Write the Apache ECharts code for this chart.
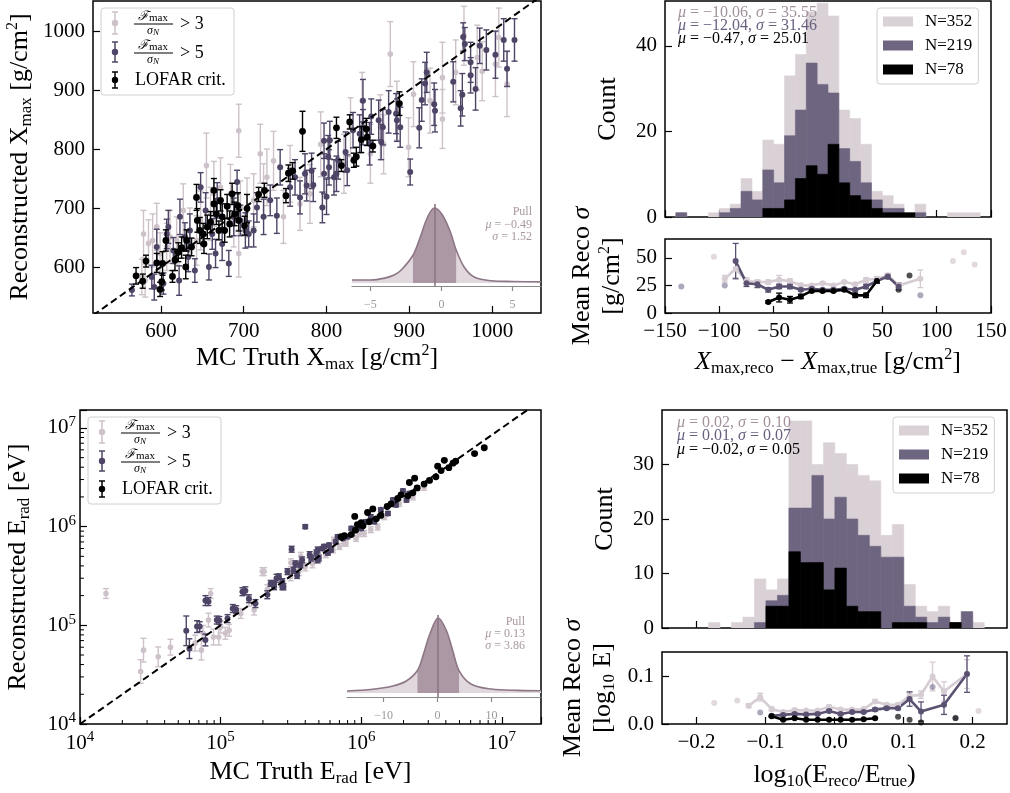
<!DOCTYPE html>
<html>
<head>
<meta charset="UTF-8">
<title>Xmax and Erad reconstruction</title>
<script src="https://cdn.jsdelivr.net/npm/echarts@6/dist/echarts.min.js"></script>
</head>
<body style="margin:0">
<div id="chart" style="width:1010px;height:793px;"></div>
<script>
// ---- scatter: [truth, reco, err] ----
var xmaxLight = [[577,583,30],[581,577,28],[579,656,40],[585,640,40],[590,645,45],[595,668,40],[599,623,35],[607,634,40],[611,651,45],[619,645,40],[627,696,45],[635,662,38],[643,645,42],[648,679,50],[655,772,55],[660,690,45],[664,724,55],[672,735,50],[684,724,50],[688,679,45],[694,831,45],[694,623,40],[696,701,45],[704,701,50],[712,713,45],[720,792,50],[724,730,45],[728,752,48],[736,780,50],[748,685,45],[756,758,48],[768,707,45],[780,724,50],[793,808,55],[821,775,50],[829,837,50],[843,882,48],[853,792,50],[865,837,55],[869,808,50],[877,961,55],[885,865,50],[899,803,50],[905,893,55],[925,882,55],[940,851,50],[940,921,60],[956,930,55],[966,992,50],[982,955,55],[988,932,50],[1004,944,55],[1008,989,50],[1018,910,55]];
var xmaxMid = [[565,561,10],[589,583,20],[592,566,22],[595,634,30],[603,572,18],[607,656,25],[609,668,28],[615,628,22],[622,577,25],[623,685,30],[629,651,24],[633,617,25],[635,662,28],[641,594,20],[648,735,25],[654,696,30],[658,600,22],[662,656,26],[666,623,24],[668,713,30],[674,639,28],[682,606,22],[688,685,32],[692,744,20],[696,679,26],[702,662,30],[706,656,22],[712,662,28],[716,701,25],[724,685,30],[732,713,26],[740,687,30],[744,769,30],[756,735,32],[762,752,30],[768,718,28],[774,758,34],[776,738,26],[782,763,30],[784,739,28],[795,701,26],[797,814,30],[797,758,34],[800,719,30],[802,787,36],[803,769,30],[804,815,32],[809,752,30],[812,758,30],[814,781,32],[823,795,34],[825,764,26],[832,832,30],[840,826,32],[844,882,36],[844,837,30],[852,809,36],[854,855,30],[863,849,34],[866,812,30],[868,837,30],[875,863,36],[884,860,34],[885,849,36],[889,837,34],[901,761,22],[912,836,34],[915,883,36],[919,911,36],[921,930,34],[930,876,36],[931,865,36],[953,914,34],[962,869,30],[964,892,36],[965,990,24],[967,978,28],[974,947,34],[974,925,30],[980,902,36],[985,975,30],[993,968,34],[1004,960,40],[1014,985,36],[1018,936,30],[1027,985,36]];
var xmaxLofar = [[570,585,14],[578,576,12],[582,610,10],[595,607,16],[599,562,12],[601,575,14],[602,606,20],[606,645,18],[614,584,10],[617,612,18],[621,625,16],[625,633,18],[630,600,20],[631,645,18],[637,634,15],[643,718,22],[644,679,20],[647,662,22],[651,656,18],[652,639,16],[656,668,20],[660,676,18],[664,730,20],[664,707,20],[667,690,18],[670,662,16],[672,713,18],[674,685,22],[677,662,20],[680,703,20],[683,673,22],[686,724,18],[689,690,20],[693,704,22],[694,679,18],[701,670,16],[704,699,24],[718,723,12],[725,730,12],[751,721,12],[754,759,14],[759,763,14],[771,830,34],[812,836,18],[818,772,10],[828,846,12],[833,781,12],[836,787,16],[842,816,22],[848,834,18],[849,820,14],[856,805,10],[888,877,20]];

// [truth, reco, err in dex]
var eradLight = [[1.53e4,2.1e5,0.05],[2.7e4,3.4e4,0.12],[2.83e4,5.6e4,0.12],[3.6e4,4.8e4,0.1],[4.4e4,6.0e4,0.08],[6.6e4,6.6e4,0.08],[7.3e4,5.6e4,0.1],[7.5e4,8.3e4,0.08],[8.2e4,1.13e5,0.07],[8.5e4,2.1e5,0.05],[8.9e4,7.6e4,0.08],[9.7e4,7.6e4,0.08],[1.0e5,9.6e4,0.06],[1.08e5,8.3e4,0.06],[1.15e5,8.9e4,0.06],[1.39e5,1.32e5,0.05],[1.59e5,1.76e5,0.05],[1.73e5,1.43e5,0.05],[1.98e5,3.5e5,0.04],[2.04e5,3.5e5,0.04],[2.15e5,2.3e5,0.05],[2.7e5,2.65e5,0.04],[3.15e5,3.1e5,0.04],[3.16e5,4.3e5,0.04],[3.6e5,3.5e5,0.04],[3.72e5,5.0e5,0.04],[4.0e5,3.9e5,0.04],[4.5e5,4.2e5,0.04],[4.6e5,4.6e5,0.03],[5.6e5,5.2e5,0.03],[5.8e5,5.8e5,0.03],[6.3e5,5.8e5,0.03],[6.4e5,7.3e5,0.03],[7.0e5,6.3e5,0.03],[7.6e5,6.8e5,0.03],[7.8e5,6.8e5,0.03],[9.2e5,7.6e5,0.03],[9.7e5,8.5e5,0.03],[1.05e6,8.5e5,0.03],[1.17e6,9.3e5,0.03],[1.31e6,9.9e5,0.03],[1.46e6,1.26e6,0.03],[1.87e6,1.72e6,0.03],[2.33e6,2.0e6,0.03],[2.8e6,2.5e6,0.03]];
var eradMid = [[5.7e4,8.8e4,0.15],[6.0e4,5.8e4,0.1],[6.8e4,9.7e4,0.06],[7.1e4,9.7e4,0.05],[7.8e4,1.78e5,0.05],[7.8e4,7.1e4,0.06],[8.2e4,1.74e5,0.04],[9.4e4,1.13e5,0.04],[9.8e4,1.12e5,0.04],[1.12e5,1.17e5,0.04],[1.22e5,1.48e5,0.04],[1.29e5,1.44e5,0.04],[1.43e5,2.19e5,0.04],[1.5e5,2.24e5,0.04],[1.59e5,1.86e5,0.04],[1.77e5,1.66e5,0.04],[2.15e5,2.04e5,0.04],[2.27e5,2.66e5,0.03],[2.4e5,2.46e5,0.03],[2.4e5,2.65e5,0.03],[2.5e5,3.0e5,0.04],[2.6e5,3.1e5,0.03],[2.75e5,2.46e5,0.03],[2.75e5,2.77e5,0.03],[2.8e5,2.46e5,0.03],[2.99e5,3.5e5,0.03],[3.2e5,5.9e5,0.03],[3.3e5,3.6e5,0.03],[3.4e5,4.2e5,0.03],[3.5e5,3.2e5,0.03],[3.7e5,4.1e5,0.03],[3.8e5,4.6e5,0.03],[4.0e5,1.0e6,0.02],[4.3e5,5.2e5,0.03],[4.4e5,4.8e5,0.03],[4.8e5,5.4e5,0.03],[4.9e5,5.8e5,0.03],[4.9e5,4.6e5,0.03],[5.0e5,4.8e5,0.03],[5.3e5,6.0e5,0.02],[5.45e5,6.3e5,0.02],[5.8e5,5.4e5,0.02],[5.9e5,6.5e5,0.02],[6.1e5,5.8e5,0.02],[6.6e5,7.0e5,0.02],[6.8e5,7.9e5,0.02],[7.4e5,7.6e5,0.02],[8.0e5,7.9e5,0.02],[8.5e5,9.6e5,0.02],[8.9e5,9.2e5,0.02],[1.0e6,9.6e5,0.02],[1.08e6,1.12e6,0.02],[1.17e6,1.26e6,0.02],[1.24e6,1.12e6,0.02],[1.38e6,1.48e6,0.02],[1.55e6,1.36e6,0.02],[1.68e6,1.86e6,0.02],[1.77e6,1.66e6,0.02],[1.98e6,2.3e6,0.02],[2.1e6,1.86e6,0.02],[2.2e6,2.17e6,0.02],[2.5e6,2.45e6,0.02]];
var eradLofar = [[7.2e5,7.9e5,0.01],[7.6e5,8.1e5,0.01],[8.5e5,8.3e5,0.01],[9.0e5,1.27e6,0.01],[9.1e5,9.2e5,0.01],[9.4e5,1.05e6,0.01],[1.0e6,1.1e6,0.01],[1.03e6,1.02e6,0.01],[1.11e6,1.39e6,0.01],[1.14e6,1.12e6,0.01],[1.21e6,1.51e6,0.01],[1.28e6,1.2e6,0.01],[1.38e6,1.3e6,0.01],[1.53e6,1.6e6,0.01],[1.63e6,1.7e6,0.01],[1.82e6,1.93e6,0.01],[1.92e6,2.1e6,0.01],[2.15e6,2.05e6,0.01],[2.2e6,2.8e6,0.01],[2.33e6,2.2e6,0.01],[2.4e6,3.1e6,0.01],[2.5e6,2.47e6,0.01],[2.8e6,2.7e6,0.01],[3.06e6,2.94e6,0.01],[3.4e6,3.2e6,0.01],[3.5e6,4.1e6,0.01],[3.7e6,3.7e6,0.01],[3.9e6,4.7e6,0.01],[4.2e6,3.96e6,0.01],[4.5e6,4.4e6,0.01],[4.7e6,4.6e6,0.01],[6.4e6,5.5e6,0.01],[7.5e6,6.3e6,0.01]];

var diagXmax = [518, 1059];
var diagErad = [1e4, 1.9e7];

// ---- histograms ----
var histXmaxEdges = [-150,-140,-130,-120,-110,-100,-90,-80,-70,-60,-50,-40,-30,-20,-10,0,10,20,30,40,50,60,70,80,90,100,110,120,130,140];
var histXmaxLight = [0,1,0,0,1,2,3,9,6,18,17,33,38,48,50,47,25,23,17,6,5,3,1,3,0,0,1,1,1];
var histXmaxMid   = [0,1,0,0,0,1,2,6,4,11,8,19,25,36,31,29,16,13,8,4,2,2,0,1,0,0,0,0,0];
var histXmaxLofar = [0,0,0,0,0,0,0,0,0,2,2,4,9,12,10,17,8,5,4,2,1,1,1,0,0,0,0,0,0];

var histEradEdges = [-0.1826,-0.1660,-0.1493,-0.1327,-0.1160,-0.0994,-0.0827,-0.0661,-0.0494,-0.0328,-0.0161,0.0005,0.0172,0.0338,0.0505,0.0671,0.0838,0.1004,0.1171,0.1337,0.1504,0.1670,0.1837,0.2003,0.2170];
var histEradLight = [1,0,1,2,9,7,9,38,38,30,34,32,30,28,27,17,19,8,4,3,4,1,3,1];
var histEradMid   = [0,0,0,0,1,5,6,22,22,28,20,24,20,17,15,13,13,4,2,1,2,1,3,0];
var histEradLofar = [0,0,0,0,0,4,4,14,12,12,7,11,4,3,3,0,1,1,1,0,0,1,0,0];

// ---- mean reco sigma per bin: [centre, mean, err] ----
var resXmaxLightLine = [[-95,31,3],[-85,40,8],[-75,29,3],[-65,28,2],[-55,28,2],[-45,30,4],[-35,29,2],[-25,25,2],[-15,25,1],[-5,27,1],[5,25,1],[15,28,1],[25,26,1],[35,30,2],[45,31,2],[55,34,2],[65,25,2],[85,31,8]];
var resXmaxLightSingle = [[-105,51],[115,47],[125,55],[135,44]];
var resXmaxMidLine = [[-85,47,16],[-75,27,3],[-65,26,3],[-55,21,2],[-45,24,2],[-35,24,2],[-25,21,1],[-15,22,1],[-5,21,1],[5,21,1],[15,22,1],[25,21,1],[35,24,2],[45,29,2],[55,33,2],[65,24,3]];
var resXmaxMidSingle = [[-135,24],[-95,25],[85,16]];
var resXmaxLofarLine = [[-55,10,1],[-45,14,4],[-35,12,3],[-25,15,2],[-15,20,1],[-5,20,1],[5,20,1],[15,21,1],[25,16,2],[35,16,2],[45,29,2]];
var resXmaxLofarSingle = [[55,33],[65,21],[75,34]];

var resEradLightLine = [[-0.1244,0.038,0.004],[-0.1077,0.056,0.008],[-0.0911,0.031,0.004],[-0.0744,0.025,0.003],[-0.0578,0.029,0.003],[-0.0411,0.028,0.002],[-0.0245,0.028,0.002],[-0.0078,0.036,0.003],[0.0089,0.030,0.002],[0.0255,0.030,0.002],[0.0422,0.031,0.002],[0.0588,0.047,0.004],[0.0755,0.040,0.003],[0.0921,0.040,0.003],[0.1088,0.058,0.006],[0.1254,0.061,0.008],[0.1421,0.099,0.03],[0.1587,0.068,0.02],[0.1920,0.104,0.03]];
var resEradLightSingle = [[-0.1743,0.044],[-0.1410,0.049],[0.2087,0.027]];
var resEradMidLine = [[-0.0911,0.017,0.002],[-0.0744,0.019,0.002],[-0.0578,0.021,0.002],[-0.0411,0.020,0.002],[-0.0245,0.021,0.002],[-0.0078,0.027,0.003],[0.0089,0.021,0.002],[0.0255,0.025,0.002],[0.0422,0.025,0.002],[0.0588,0.030,0.003],[0.0755,0.033,0.003],[0.0921,0.033,0.003],[0.1088,0.052,0.015],[0.1254,0.026,0.02],[0.1587,0.040,0.02],[0.1920,0.104,0.038]];
var resEradMidSingle = [[-0.1077,0.024],[0.1421,0.077],[0.1754,0.013]];
var resEradLofarLine = [[-0.0911,0.016,0.001],[-0.0744,0.009,0.001],[-0.0578,0.012,0.001],[-0.0411,0.009,0.001],[-0.0245,0.009,0.001],[-0.0078,0.009,0.001],[0.0089,0.009,0.001],[0.0255,0.009,0.001],[0.0422,0.010,0.001],[0.0588,0.012,0.001]];
var resEradLofarSingle = [[0.0921,0.015],[0.1088,0.009],[0.1254,0.003],[0.1754,0.012]];

// ---- pull insets (relative density) ----
var pullXmaxX = [-6.3,-5,-4,-3.3,-2.8,-2.01,-1.5,-1.0,-0.5,0.05,0.64,1.03,1.6,2.3,3.5,5,7];
var pullXmaxY = [0.04,0.04,0.065,0.11,0.18,0.37,0.61,0.87,1.0,0.91,0.67,0.44,0.21,0.08,0.03,0.02,0.015];
var pullXmaxStats = {mu: -0.49, sigma: 1.52};
var pullEradX = [-16.8,-12,-8.3,-5.8,-3.73,-2.6,-1.4,0.13,1.6,2.8,3.99,6.2,10,15,19.2];
var pullEradY = [0.027,0.05,0.093,0.16,0.3,0.52,0.79,1.0,0.84,0.57,0.3,0.12,0.053,0.035,0.03];
var pullEradStats = {mu: 0.13, sigma: 3.86};

var minorLogTicks = [2e4,3e4,4e4,5e4,6e4,7e4,8e4,9e4,2e5,3e5,4e5,5e5,6e5,7e5,8e5,9e5,2e6,3e6,4e6,5e6,6e6,7e6,8e6,9e6];

// ---- styling ----
var serif = "'Liberation Serif','DejaVu Serif',serif";
var cLight = '#cdc2c9', cMid = '#4e4466', cLofar = '#000000';
var hLight = '#dad1d7', hMid = '#6e6580';
var rLight = '#d6ccd3', rMid = '#5b5272';
var pullLine = '#8d7686', pullFill = '#e0d8dd', pullBand = '#ab98a4';

var richName = {
  s: {fontSize: 17, fontFamily: serif, lineHeight: 12, verticalAlign: 'bottom'},
  p: {fontSize: 16, fontFamily: serif, lineHeight: 14, verticalAlign: 'top'},
  i: {fontSize: 26, fontFamily: serif, fontStyle: 'italic'},
  n: {fontSize: 26, fontFamily: serif}
};
var nameStyle = {fontFamily: serif, fontSize: 26, color: '#000', lineHeight: 30, rich: richName};

function fmtInt(v) { return v < 0 ? '\u2212' + Math.abs(v) : String(v); }
function fmt1(v) { return (v < 0 ? '\u2212' : '') + Math.abs(v).toFixed(1); }
function fmtPow(v) {
  var l = Math.log10(v), e = Math.round(l);
  if (Math.abs(l - e) > 1e-6) return '';
  return '10{e|' + e + '}';
}

function axis(gi, min, max, ticks, showLabels, fmt) {
  return {
    type: 'value', gridIndex: gi, min: min, max: max,
    axisLine: {show: false, onZero: false},
    axisTick: {show: true, inside: true, length: 7, lineStyle: {color: '#000', width: 1.2}, customValues: ticks},
    axisLabel: {show: showLabels, customValues: ticks, color: '#000', fontFamily: serif, fontSize: 21, margin: 8, formatter: fmt || fmtInt},
    splitLine: {show: false}
  };
}
function logAxis(gi, min, max, margin) {
  return {
    type: 'log', logBase: 10, gridIndex: gi, min: min, max: max,
    axisLine: {show: false, onZero: false},
    axisTick: {show: true, inside: true, length: 7, lineStyle: {color: '#000', width: 1.2}},
    axisLabel: {color: '#000', fontFamily: serif, fontSize: 21, margin: margin, lineHeight: 26, formatter: fmtPow,
      rich: {e: {fontSize: 15, fontFamily: serif, verticalAlign: 'top', lineHeight: 12}}},
    splitLine: {show: false}
  };
}
function named(ax, name, gap, vertical) {
  ax.name = name; ax.nameLocation = 'middle'; ax.nameGap = gap; ax.nameTextStyle = nameStyle;
  if (vertical) ax.nameRotate = 90;
  return ax;
}
function insetAxis(gi, min, max, ticks) {
  return {
    type: 'value', gridIndex: gi, min: min, max: max,
    axisLine: {show: true, onZero: false, lineStyle: {color: '#8a8a8a', width: 1.2}},
    axisTick: {show: true, inside: false, length: 5, lineStyle: {color: '#8a8a8a', width: 1.2}, customValues: ticks},
    axisLabel: {customValues: ticks, color: '#9a9a9a', fontFamily: serif, fontSize: 12, margin: 13, formatter: fmtInt},
    splitLine: {show: false}
  };
}

// ---- renderers ----
function errRender(color, r, cap, lw, logY) {
  return function (params, api) {
    var x = api.value(0), y = api.value(1), e = api.value(2);
    var lo = logY ? y / Math.pow(10, e) : y - e;
    var hi = logY ? y * Math.pow(10, e) : y + e;
    var p = api.coord([x, y]), pl = api.coord([x, lo]), ph = api.coord([x, hi]);
    var st = {stroke: color, lineWidth: lw};
    var kids = [
      {type: 'line', shape: {x1: pl[0], y1: pl[1], x2: ph[0], y2: ph[1]}, style: st},
      {type: 'line', shape: {x1: ph[0] - cap, y1: ph[1], x2: ph[0] + cap, y2: ph[1]}, style: st},
      {type: 'line', shape: {x1: pl[0] - cap, y1: pl[1], x2: pl[0] + cap, y2: pl[1]}, style: st}
    ];
    if (r > 0) kids.push({type: 'circle', shape: {cx: p[0], cy: p[1], r: r}, style: {fill: color}});
    return {type: 'group', children: kids};
  };
}
function histRender(color) {
  return function (params, api) {
    var a = api.coord([api.value(0), api.value(2)]);
    var b = api.coord([api.value(1), 0]);
    return {type: 'rect', shape: {x: a[0], y: a[1], width: b[0] - a[0], height: b[1] - a[1]},
      style: {fill: color, stroke: color, lineWidth: 0.6}};
  };
}
function histData(edges, counts) {
  var out = [];
  for (var i = 0; i < counts.length; i++) if (counts[i] > 0) out.push([edges[i], edges[i + 1], counts[i]]);
  return out;
}
function minorRender(dir) {
  return function (params, api) {
    var p = api.coord([api.value(0), api.value(1)]);
    var sh = dir === 'x' ? {x1: p[0], y1: p[1], x2: p[0], y2: p[1] - 4} : {x1: p[0], y1: p[1], x2: p[0] + 4, y2: p[1]};
    return {type: 'line', shape: sh, style: {stroke: '#000', lineWidth: 1}};
  };
}

function scatterSeries(name, data, gi, color, r, cap, logY) {
  return {type: 'custom', name: name, xAxisIndex: gi, yAxisIndex: gi, data: data,
    encode: {x: 0, y: 1}, renderItem: errRender(color, r, cap, 1.4, logY), clip: true, silent: true};
}
function histSeries(name, edges, counts, gi, color) {
  return {type: 'custom', name: name, xAxisIndex: gi, yAxisIndex: gi, data: histData(edges, counts),
    encode: {x: [0, 1], y: 2}, itemStyle: {color: color}, renderItem: histRender(color), clip: true, silent: true};
}
function resSeries(lineData, singles, gi, color, singleColor) {
  return [
    {type: 'custom', xAxisIndex: gi, yAxisIndex: gi, data: lineData, encode: {x: 0, y: 1},
      renderItem: errRender(color, 0, 3, 1.3, false), clip: true, silent: true},
    {type: 'line', xAxisIndex: gi, yAxisIndex: gi, data: lineData.map(function (d) { return [d[0], d[1]]; }),
      symbol: 'circle', symbolSize: 6, showSymbol: true, itemStyle: {color: color},
      lineStyle: {color: color, width: 2.6}, silent: true, animation: false},
    {type: 'scatter', xAxisIndex: gi, yAxisIndex: gi, data: singles, symbolSize: 6,
      itemStyle: {color: singleColor}, silent: true}
  ];
}
function pullSeries(xs, ys, stats, gi) {
  var full = xs.map(function (x, i) { return [x, ys[i]]; });
  var lo = stats.mu - stats.sigma, hi = stats.mu + stats.sigma;
  var band = full.filter(function (d) { return d[0] >= lo - 0.02 && d[0] <= hi + 0.02; });
  return [
    {type: 'line', xAxisIndex: gi, yAxisIndex: gi, data: full, smooth: 0.35, symbol: 'none',
      lineStyle: {width: 0}, areaStyle: {color: pullFill, opacity: 1}, silent: true, z: 3},
    {type: 'line', xAxisIndex: gi, yAxisIndex: gi, data: band, smooth: 0.35, symbol: 'none',
      lineStyle: {width: 0}, areaStyle: {color: pullBand, opacity: 1}, silent: true, z: 3},
    {type: 'line', xAxisIndex: gi, yAxisIndex: gi, data: full, smooth: 0.35, symbol: 'none',
      lineStyle: {color: pullLine, width: 1.6}, silent: true, z: 4,
      markLine: {symbol: 'none', silent: true, label: {show: false},
        lineStyle: {color: pullLine, width: 1.6, type: 'solid'}, data: [{xAxis: stats.mu}]}}
  ];
}

// ---- legends drawn as graphic (fraction labels) ----
function scatterLegend(x0, y0) {
  var els = [{type: 'rect', shape: {x: x0, y: y0, width: 133, height: 87, r: 3},
    style: {fill: 'rgba(255,255,255,0.85)', stroke: '#d0d0d0', lineWidth: 1}, z: 100}];
  var rows = [[y0 + 15, cLight, 11, '3'], [y0 + 44, cMid, 10, '5'], [y0 + 72, cLofar, 8, null]];
  rows.forEach(function (row) {
    var cy = row[0], col = row[1], eh = row[2], ix = x0 + 14;
    var st = {stroke: col, lineWidth: 1.5};
    els.push({type: 'line', shape: {x1: ix, y1: cy - eh, x2: ix, y2: cy + eh}, style: st, z: 101});
    els.push({type: 'line', shape: {x1: ix - 3, y1: cy - eh, x2: ix + 3, y2: cy - eh}, style: st, z: 101});
    els.push({type: 'line', shape: {x1: ix - 3, y1: cy + eh, x2: ix + 3, y2: cy + eh}, style: st, z: 101});
    els.push({type: 'circle', shape: {cx: ix, cy: cy, r: 3.2}, style: {fill: col}, z: 101});
    if (row[3]) {
      els.push({type: 'text', x: x0 + 52, y: cy - 6, z: 101, style: {text: '{f|\u2131}{m|max}', align: 'center', verticalAlign: 'middle', fill: '#000',
        rich: {f: {fontSize: 13, fontFamily: serif, fontStyle: 'italic', lineHeight: 14}, m: {fontSize: 11, fontFamily: serif, lineHeight: 9, verticalAlign: 'bottom'}}}});
      els.push({type: 'line', shape: {x1: x0 + 33, y1: cy + 1, x2: x0 + 72, y2: cy + 1}, style: {stroke: '#000', lineWidth: 1}, z: 101});
      els.push({type: 'text', x: x0 + 52, y: cy + 8, z: 101, style: {text: '{g|\u03c3}{n|N}', align: 'center', verticalAlign: 'middle', fill: '#000',
        rich: {g: {fontSize: 12, fontFamily: serif, fontStyle: 'italic', lineHeight: 12}, n: {fontSize: 9, fontFamily: serif, fontStyle: 'italic', lineHeight: 7, verticalAlign: 'bottom'}}}});
      els.push({type: 'text', x: x0 + 79, y: cy + 1, z: 101, style: {text: '> ' + row[3], fontSize: 18, fontFamily: serif, fill: '#000', align: 'left', verticalAlign: 'middle'}});
    } else {
      els.push({type: 'text', x: x0 + 34, y: cy, z: 101, style: {text: 'LOFAR crit.', fontSize: 18, fontFamily: serif, fill: '#000', align: 'left', verticalAlign: 'middle'}});
    }
  });
  return els;
}
function statText(x, y, txt, color, size, align) {
  return {type: 'text', x: x, y: y, z: 100, style: {text: txt, fill: color, fontSize: size, fontFamily: serif,
    align: align || 'left', verticalAlign: 'middle',
    rich: {i: {fontSize: size, fontFamily: serif, fontStyle: 'italic', fill: color}}}};
}

var chart = echarts.init(document.getElementById('chart'), null, {renderer: 'canvas'});

var boxed = {show: true, borderColor: '#000', borderWidth: 1.5, backgroundColor: 'transparent'};
var grids = [
  Object.assign({left: 93, top: 1, width: 448, height: 312}, boxed),
  Object.assign({left: 665, top: 1, width: 326, height: 216}, boxed),
  Object.assign({left: 665, top: 239, width: 326, height: 74}, boxed),
  Object.assign({left: 80, top: 410, width: 461, height: 314}, boxed),
  Object.assign({left: 662, top: 410, width: 345, height: 218}, boxed),
  Object.assign({left: 662, top: 652, width: 345, height: 72}, boxed),
  {left: 352, top: 204, width: 189, height: 82, show: false},
  {left: 347, top: 615, width: 194, height: 82, show: false}
];

var xAxes = [
  named(axis(0, 518, 1059, [600, 700, 800, 900, 1000], true), 'MC Truth X{s|max} [g/cm{p|2}]', 30, false),
  axis(1, -150, 150, [-150, -100, -50, 0, 50, 100, 150], false),
  named(axis(2, -150, 150, [-150, -100, -50, 0, 50, 100, 150], true), '{i|X}{s|max,reco} \u2212 {i|X}{s|max,true} [g/cm{p|2}]', 34, false),
  named(logAxis(3, 1e4, 1.9e7, 6), 'MC Truth E{s|rad} [eV]', 30, false),
  axis(4, -0.25, 0.25, [-0.2, -0.1, 0, 0.1, 0.2], false, fmt1),
  named(axis(5, -0.25, 0.25, [-0.2, -0.1, 0, 0.1, 0.2], true, fmt1), 'log{s|10}(E{s|reco}/E{s|true})', 36, false),
  insetAxis(6, -6.3, 7.0, [-5, 0, 5]),
  insetAxis(7, -16.8, 19.2, [-10, 0, 10])
];
var yAxes = [
  named(axis(0, 522, 1051, [600, 700, 800, 900, 1000], true), 'Reconstructed X{s|max} [g/cm{p|2}]', 58, true),
  named(axis(1, 0, 50.5, [0, 20, 40], true), 'Count', 42, true),
  named(axis(2, 0, 67, [0, 25, 50], true), 'Mean Reco {i|\u03c3}\n[g/cm{p|2}]', 38, true),
  named(logAxis(3, 1e4, 1.52e7, 4), 'Reconstructed E{s|rad} [eV]', 47, true),
  named(axis(4, 0, 40, [0, 10, 20, 30], true), 'Count', 42, true),
  named(axis(5, 0, 0.15, [0, 0.1], true, fmt1), 'Mean Reco {i|\u03c3}\n[log{s|10} E]', 44, true),
  {type: 'value', gridIndex: 6, min: -0.04, max: 1.053, show: false},
  {type: 'value', gridIndex: 7, min: -0.053, max: 1.04, show: false}
];

var series = [
  scatterSeries('xmax F>3', xmaxLight, 0, cLight, 2.8, 3, false),
  scatterSeries('xmax F>5', xmaxMid, 0, cMid, 3, 3, false),
  scatterSeries('xmax LOFAR', xmaxLofar, 0, cLofar, 3.4, 3, false),
  {type: 'line', xAxisIndex: 0, yAxisIndex: 0, data: [[diagXmax[0], diagXmax[0]], [diagXmax[1], diagXmax[1]]],
    symbol: 'none', lineStyle: {color: '#000', width: 2, type: [7, 4]}, z: 5, silent: true},
  scatterSeries('erad F>3', eradLight, 3, cLight, 2.8, 3, true),
  scatterSeries('erad F>5', eradMid, 3, cMid, 3, 3, true),
  scatterSeries('erad LOFAR', eradLofar, 3, cLofar, 3.4, 3, true),
  {type: 'line', xAxisIndex: 3, yAxisIndex: 3, data: [[diagErad[0], diagErad[0]], [diagErad[1], diagErad[1]]],
    symbol: 'none', lineStyle: {color: '#000', width: 2, type: [7, 4]}, z: 5, silent: true},
  {type: 'custom', xAxisIndex: 3, yAxisIndex: 3, data: minorLogTicks.map(function (v) { return [v, 1e4]; }),
    encode: {x: 0, y: 1}, renderItem: minorRender('x'), clip: false, silent: true, z: 6},
  {type: 'custom', xAxisIndex: 3, yAxisIndex: 3, data: minorLogTicks.filter(function (v) { return v < 1.52e7; }).map(function (v) { return [1e4, v]; }),
    encode: {x: 0, y: 1}, renderItem: minorRender('y'), clip: false, silent: true, z: 6},
  histSeries('N=352', histXmaxEdges, histXmaxLight, 1, hLight),
  histSeries('N=219', histXmaxEdges, histXmaxMid, 1, hMid),
  histSeries('N=78', histXmaxEdges, histXmaxLofar, 1, '#000'),
  histSeries('N=352', histEradEdges, histEradLight, 4, hLight),
  histSeries('N=219', histEradEdges, histEradMid, 4, hMid),
  histSeries('N=78', histEradEdges, histEradLofar, 4, '#000')
];
series = series
  .concat(resSeries(resXmaxLightLine, resXmaxLightSingle, 2, rLight, 'rgba(205,192,200,0.75)'))
  .concat(resSeries(resXmaxMidLine, resXmaxMidSingle, 2, rMid, 'rgba(110,100,135,0.7)'))
  .concat(resSeries(resXmaxLofarLine, resXmaxLofarSingle, 2, '#000', 'rgba(0,0,0,0.85)'))
  .concat(resSeries(resEradLightLine, resEradLightSingle, 5, rLight, 'rgba(205,192,200,0.75)'))
  .concat(resSeries(resEradMidLine, resEradMidSingle, 5, rMid, 'rgba(110,100,135,0.7)'))
  .concat(resSeries(resEradLofarLine, resEradLofarSingle, 5, '#000', 'rgba(0,0,0,0.85)'))
  .concat(pullSeries(pullXmaxX, pullXmaxY, pullXmaxStats, 6))
  .concat(pullSeries(pullEradX, pullEradY, pullEradStats, 7));

function histLegend(left, top) {
  return {left: left, top: top, orient: 'vertical', data: ['N=352', 'N=219', 'N=78'], icon: 'rect',
    itemWidth: 30, itemHeight: 10, itemGap: 7, selectedMode: false,
    padding: [5, 6, 6, 6], backgroundColor: 'rgba(255,255,255,0.85)', borderColor: '#d0d0d0', borderWidth: 1, borderRadius: 3,
    textStyle: {fontFamily: serif, fontSize: 17, color: '#000', lineHeight: 14, padding: [0, 0, 0, 7]}};
}

var graphics = []
  .concat(scatterLegend(101, 8))
  .concat(scatterLegend(88, 417))
  .concat([
    statText(678, 13, '{i|\u03bc} = \u221210.06, {i|\u03c3} = 35.55', '#a3929d', 16),
    statText(678, 26, '{i|\u03bc} = \u221212.04, {i|\u03c3} = 31.46', '#6a6080', 16),
    statText(678, 39, '{i|\u03bc} = \u22120.47, {i|\u03c3} = 25.01', '#000', 16),
    statText(677, 423, '{i|\u03bc} = 0.02, {i|\u03c3} = 0.10', '#a3929d', 16),
    statText(677, 436, '{i|\u03bc} = 0.01, {i|\u03c3} = 0.07', '#6a6080', 16),
    statText(677, 450, '{i|\u03bc} = \u22120.02, {i|\u03c3} = 0.05', '#000', 16),
    statText(532, 212, 'Pull', '#a8969f', 12, 'right'),
    statText(532, 225, '{i|\u03bc} = \u22120.49', '#a8969f', 12, 'right'),
    statText(532, 237, '{i|\u03c3} = 1.52', '#a8969f', 12, 'right'),
    statText(525, 622, 'Pull', '#a8969f', 12, 'right'),
    statText(525, 634, '{i|\u03bc} = 0.13', '#a8969f', 12, 'right'),
    statText(525, 646, '{i|\u03c3} = 3.86', '#a8969f', 12, 'right')
  ]);

chart.setOption({
  animation: false,
  backgroundColor: '#ffffff',
  grid: grids,
  xAxis: xAxes,
  yAxis: yAxes,
  legend: [histLegend(877, 8), histLegend(893, 417)],
  graphic: {elements: graphics},
  series: series
});
</script>
</body>
</html>
